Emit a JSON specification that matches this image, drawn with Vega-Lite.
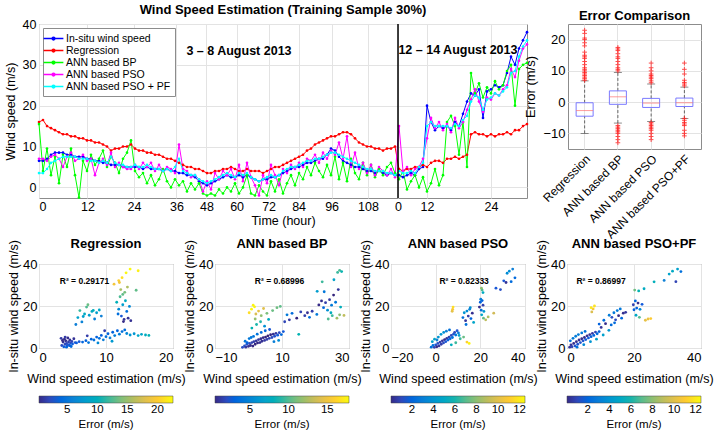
{
"$schema":"https://vega.github.io/schema/vega-lite/v6.json",
"background":"white",
"padding":{"left":3,"top":3,"right":2,"bottom":0},
"config":{
 "font":"Liberation Sans",
 "view":{"stroke":"#8c8c8c","strokeWidth":1},
 "axis":{"grid":true,"gridColor":"#e3e3e3","domain":false,"ticks":false,"labelFontSize":12,"titleFontSize":12.5,"titleFontWeight":"normal","labelColor":"#000","titleColor":"#000","labelPadding":3},
 "title":{"fontSize":13,"fontWeight":"bold","anchor":"middle","offset":1,"color":"#000"},
 "legend":{"labelColor":"#000","titleColor":"#000"}
},
"datasets":{
"ts":[
{"n":0,"a":6.5,"r":16,"b":15.5,"p":7,"f":3.5},
{"n":2,"a":6.5,"r":16.5,"b":4,"p":7,"f":3.5},
{"n":4,"a":7,"r":15,"b":9.5,"p":6.5,"f":4.5},
{"n":6,"a":8,"r":14.5,"b":3,"p":7.5,"f":6},
{"n":8,"a":8.5,"r":14,"b":7.5,"p":8,"f":6.5},
{"n":10,"a":8.5,"r":13.5,"b":1,"p":7,"f":7},
{"n":12,"a":8.5,"r":13,"b":8,"p":5,"f":7.5},
{"n":14,"a":8,"r":13,"b":5,"p":7.5,"f":7.5},
{"n":16,"a":8,"r":12.5,"b":9.5,"p":8.5,"f":7.5},
{"n":18,"a":7.5,"r":12.5,"b":3,"p":6.5,"f":7.5},
{"n":20,"a":7.5,"r":12,"b":-2.5,"p":7,"f":7},
{"n":22,"a":7.5,"r":12,"b":6.5,"p":8,"f":7},
{"n":24,"a":7,"r":11.5,"b":4,"p":6.5,"f":7},
{"n":26,"a":7,"r":11.5,"b":8,"p":7,"f":6.5},
{"n":28,"a":6.5,"r":11,"b":5.5,"p":3,"f":6.5},
{"n":30,"a":6.5,"r":11,"b":7,"p":6,"f":6},
{"n":32,"a":6,"r":10.5,"b":9,"p":7,"f":6.5},
{"n":34,"a":6,"r":10,"b":5,"p":5.5,"f":6},
{"n":36,"a":5.5,"r":9,"b":7.5,"p":8.5,"f":7.5},
{"n":38,"a":5.5,"r":9.5,"b":6,"p":5,"f":6},
{"n":40,"a":5.5,"r":9.5,"b":3.5,"p":6,"f":5.5},
{"n":42,"a":5,"r":10,"b":7,"p":5,"f":5.5},
{"n":44,"a":5,"r":10,"b":8.5,"p":4.5,"f":5},
{"n":46,"a":5,"r":10.5,"b":11.5,"p":4.5,"f":5},
{"n":48,"a":5,"r":9.5,"b":4,"p":5.5,"f":5.5},
{"n":50,"a":5,"r":9,"b":2.5,"p":4.5,"f":5},
{"n":52,"a":4.5,"r":9,"b":3.5,"p":6,"f":5},
{"n":54,"a":5,"r":8.5,"b":1,"p":5,"f":5.5},
{"n":56,"a":4.5,"r":8.5,"b":3,"p":6,"f":5},
{"n":58,"a":4.5,"r":8,"b":0.5,"p":4,"f":4.5},
{"n":60,"a":4.5,"r":8,"b":2,"p":5.5,"f":4.5},
{"n":62,"a":4,"r":7.5,"b":4.5,"p":4,"f":4},
{"n":64,"a":4.5,"r":7,"b":1.5,"p":5,"f":4.5},
{"n":66,"a":4,"r":7,"b":0,"p":4.5,"f":4},
{"n":68,"a":4,"r":6.5,"b":2,"p":3.5,"f":5},
{"n":70,"a":3.5,"r":6,"b":0.5,"p":10.5,"f":7},
{"n":72,"a":3.5,"r":5.5,"b":1.5,"p":4.5,"f":4},
{"n":74,"a":3,"r":5,"b":-1,"p":4,"f":3.5},
{"n":76,"a":3,"r":5,"b":1,"p":2.5,"f":3},
{"n":78,"a":2.5,"r":4.5,"b":-0.5,"p":3,"f":3},
{"n":80,"a":1.5,"r":4.5,"b":1,"p":2,"f":2},
{"n":82,"a":1,"r":4,"b":-1.5,"p":-1,"f":1.5},
{"n":84,"a":0.5,"r":3.5,"b":-2,"p":1.5,"f":1},
{"n":86,"a":1,"r":3.5,"b":-1.5,"p":-0.5,"f":1.5},
{"n":88,"a":1.5,"r":4,"b":-2,"p":3.5,"f":2},
{"n":90,"a":2,"r":4,"b":-0.5,"p":2,"f":2.5},
{"n":92,"a":2.5,"r":4.5,"b":-1.5,"p":4,"f":3},
{"n":94,"a":3,"r":4.5,"b":0,"p":3,"f":3.5},
{"n":96,"a":2.5,"r":5,"b":-1,"p":4.5,"f":3},
{"n":98,"a":2.5,"r":4.5,"b":1,"p":2,"f":2.5},
{"n":100,"a":3,"r":4,"b":-1.5,"p":5.5,"f":3.5},
{"n":102,"a":2.5,"r":4,"b":0,"p":1.5,"f":3},
{"n":104,"a":3,"r":4.5,"b":3,"p":6,"f":3.5},
{"n":106,"a":2.5,"r":4,"b":-1.5,"p":2.5,"f":2.5},
{"n":108,"a":2,"r":4,"b":-2,"p":0.5,"f":2},
{"n":110,"a":1.5,"r":4,"b":0.5,"p":-2,"f":1.5},
{"n":112,"a":2,"r":3.5,"b":-1,"p":3,"f":2},
{"n":114,"a":2,"r":4,"b":-2,"p":1,"f":2.5},
{"n":116,"a":2.5,"r":4.5,"b":1.5,"p":5.5,"f":3},
{"n":118,"a":2.5,"r":5,"b":-1,"p":3,"f":2.5},
{"n":120,"a":3,"r":5,"b":2,"p":0.5,"f":3},
{"n":122,"a":3.5,"r":5.5,"b":-1.5,"p":4.5,"f":4},
{"n":124,"a":4,"r":6,"b":1,"p":3.5,"f":4.5},
{"n":126,"a":4.5,"r":6.5,"b":3,"p":5.5,"f":5},
{"n":128,"a":5,"r":7,"b":0.5,"p":4.5,"f":5},
{"n":130,"a":5,"r":7.5,"b":3.5,"p":6,"f":5.5},
{"n":132,"a":5.5,"r":8,"b":2,"p":5,"f":6},
{"n":134,"a":6,"r":9,"b":5,"p":7,"f":6.5},
{"n":136,"a":6,"r":9.5,"b":3,"p":6.5,"f":6.5},
{"n":138,"a":6.5,"r":10.5,"b":6,"p":8,"f":7},
{"n":140,"a":7,"r":11,"b":4,"p":6,"f":7},
{"n":142,"a":7,"r":11.5,"b":2.5,"p":8.5,"f":7.5},
{"n":144,"a":8,"r":12,"b":5.5,"p":7,"f":8},
{"n":146,"a":9.5,"r":12.5,"b":3,"p":9,"f":8.5},
{"n":148,"a":9,"r":12.5,"b":7.5,"p":8,"f":8.5},
{"n":150,"a":7.5,"r":13,"b":2,"p":11,"f":8},
{"n":152,"a":6.5,"r":13.5,"b":6,"p":7,"f":7.5},
{"n":154,"a":6,"r":13.5,"b":1.5,"p":12.5,"f":7},
{"n":156,"a":5.5,"r":13,"b":7,"p":5,"f":6.5},
{"n":158,"a":5,"r":12,"b":3.5,"p":8.5,"f":6},
{"n":160,"a":5,"r":11,"b":2,"p":4.5,"f":5.5},
{"n":162,"a":4.5,"r":10.5,"b":6,"p":6,"f":5},
{"n":164,"a":4,"r":10,"b":3,"p":3.5,"f":4.5},
{"n":166,"a":4,"r":10,"b":5.5,"p":5.5,"f":4.5},
{"n":168,"a":3.5,"r":9.5,"b":2.5,"p":3,"f":4},
{"n":170,"a":4,"r":9.5,"b":4.5,"p":5,"f":4},
{"n":172,"a":3.5,"r":9,"b":3,"p":4,"f":4},
{"n":174,"a":3,"r":9.5,"b":5,"p":3,"f":3.5},
{"n":176,"a":3.5,"r":9.5,"b":6,"p":4.5,"f":3.5},
{"n":178,"a":3,"r":10,"b":3.5,"p":2.5,"f":3},
{"n":180,"a":3,"r":4.5,"b":2,"p":15,"f":4},
{"n":182,"a":2.5,"r":4,"b":4,"p":4,"f":3.5},
{"n":184,"a":3,"r":4.5,"b":-0.5,"p":5,"f":3.5},
{"n":186,"a":3.5,"r":4.5,"b":1.5,"p":3,"f":4},
{"n":188,"a":3,"r":5,"b":3,"p":4.5,"f":3.5},
{"n":190,"a":4.5,"r":5,"b":0,"p":5,"f":5},
{"n":192,"a":5,"r":5.5,"b":2.5,"p":7,"f":6},
{"n":194,"a":20,"r":5,"b":-1,"p":12,"f":15},
{"n":196,"a":16,"r":6,"b":1,"p":17,"f":16},
{"n":198,"a":14,"r":6.5,"b":4.5,"p":14.5,"f":15},
{"n":200,"a":15,"r":6.5,"b":0.5,"p":16,"f":15},
{"n":202,"a":14.5,"r":6,"b":3,"p":14,"f":15},
{"n":204,"a":15,"r":7,"b":16,"p":15.5,"f":15},
{"n":206,"a":14,"r":7,"b":17.5,"p":13.5,"f":14.5},
{"n":208,"a":16,"r":7.5,"b":15,"p":17,"f":15.5},
{"n":210,"a":15,"r":7,"b":8,"p":14.5,"f":15},
{"n":212,"a":18,"r":7.5,"b":16,"p":16,"f":16.5},
{"n":214,"a":21,"r":8,"b":5,"p":19,"f":17.5},
{"n":216,"a":23,"r":13,"b":28,"p":21.5,"f":21},
{"n":218,"a":22.5,"r":13.5,"b":23,"p":24,"f":22.5},
{"n":220,"a":24,"r":13,"b":25.5,"p":21,"f":22},
{"n":222,"a":17,"r":13,"b":22,"p":18.5,"f":19},
{"n":224,"a":23.5,"r":12.5,"b":24.5,"p":22,"f":21.5},
{"n":226,"a":24,"r":13,"b":23,"p":21.5,"f":22},
{"n":228,"a":25,"r":12.5,"b":26,"p":23,"f":23},
{"n":230,"a":24.5,"r":13,"b":24,"p":22.5,"f":22.5},
{"n":232,"a":25,"r":13,"b":25,"p":24,"f":23.5},
{"n":234,"a":28,"r":13.5,"b":28.5,"p":25,"f":24.5},
{"n":236,"a":32,"r":13,"b":30,"p":29,"f":28},
{"n":238,"a":30,"r":14,"b":20,"p":27,"f":28.5},
{"n":240,"a":34,"r":14,"b":29,"p":31,"f":32},
{"n":242,"a":36,"r":15,"b":30,"p":34,"f":34.5},
{"n":244,"a":38,"r":15.5,"b":30.5,"p":35,"f":36}
],
"box":[
{"m":"Regression","lo":-10,"q1":-4.5,"med":-2.7,"q3":-0.2,"hi":6.8},
{"m":"ANN based BP","lo":-6.7,"q1":-0.7,"med":1.7,"q3":3.6,"hi":9.5},
{"m":"ANN based PSO","lo":-6.2,"q1":-1.7,"med":-0.3,"q3":1.2,"hi":5.8},
{"m":"ANN based PSO+PF","lo":-5.2,"q1":-1.4,"med":-0.2,"q3":1.3,"hi":4.8}
],
"out":[
{"m":"Regression","v":7},{"m":"Regression","v":7.5},{"m":"Regression","v":8},{"m":"Regression","v":8.5},{"m":"Regression","v":9},{"m":"Regression","v":9.5},{"m":"Regression","v":10},{"m":"Regression","v":10.5},{"m":"Regression","v":11},{"m":"Regression","v":12},{"m":"Regression","v":13},{"m":"Regression","v":14},{"m":"Regression","v":14.5},{"m":"Regression","v":15},{"m":"Regression","v":16},{"m":"Regression","v":18},{"m":"Regression","v":19},{"m":"Regression","v":20},{"m":"Regression","v":20.5},{"m":"Regression","v":22},{"m":"Regression","v":23},
{"m":"ANN based BP","v":10},{"m":"ANN based BP","v":10.5},{"m":"ANN based BP","v":11},{"m":"ANN based BP","v":12},{"m":"ANN based BP","v":13},{"m":"ANN based BP","v":14},{"m":"ANN based BP","v":14.5},{"m":"ANN based BP","v":15.5},{"m":"ANN based BP","v":16.5},{"m":"ANN based BP","v":17},{"m":"ANN based BP","v":17.5},{"m":"ANN based BP","v":-7.5},{"m":"ANN based BP","v":-8},{"m":"ANN based BP","v":-8.5},{"m":"ANN based BP","v":-9},{"m":"ANN based BP","v":-9.5},{"m":"ANN based BP","v":-10},{"m":"ANN based BP","v":-11},{"m":"ANN based BP","v":-12},{"m":"ANN based BP","v":-13},
{"m":"ANN based PSO","v":6.2},{"m":"ANN based PSO","v":6.8},{"m":"ANN based PSO","v":7.5},{"m":"ANN based PSO","v":8},{"m":"ANN based PSO","v":8.5},{"m":"ANN based PSO","v":9},{"m":"ANN based PSO","v":10},{"m":"ANN based PSO","v":11},{"m":"ANN based PSO","v":12.5},{"m":"ANN based PSO","v":-6.5},{"m":"ANN based PSO","v":-7},{"m":"ANN based PSO","v":-7.5},{"m":"ANN based PSO","v":-8},{"m":"ANN based PSO","v":-8.5},{"m":"ANN based PSO","v":-9},{"m":"ANN based PSO","v":-10},{"m":"ANN based PSO","v":-11},{"m":"ANN based PSO","v":-12},
{"m":"ANN based PSO+PF","v":5.2},{"m":"ANN based PSO+PF","v":5.8},{"m":"ANN based PSO+PF","v":6.3},{"m":"ANN based PSO+PF","v":7},{"m":"ANN based PSO+PF","v":9},{"m":"ANN based PSO+PF","v":10.5},{"m":"ANN based PSO+PF","v":12.5},{"m":"ANN based PSO+PF","v":-5.2},{"m":"ANN based PSO+PF","v":-5.8},{"m":"ANN based PSO+PF","v":-6.5},{"m":"ANN based PSO+PF","v":-7},{"m":"ANN based PSO+PF","v":-7.5},{"m":"ANN based PSO+PF","v":-9},{"m":"ANN based PSO+PF","v":-10},{"m":"ANN based PSO+PF","v":-10.8}
],
"s1":[
{"x":3.4,"y":1.2,"e":2.2},{"x":3.6,"y":2.8,"e":0.8},{"x":3.7,"y":0.6,"e":3.1},{"x":3.8,"y":4.2,"e":0.4},{"x":3.9,"y":1.8,"e":2.1},{"x":4.0,"y":3.4,"e":0.6},{"x":4.1,"y":2.2,"e":1.9},{"x":4.2,"y":0.9,"e":3.3},{"x":4.3,"y":4.8,"e":0.5},{"x":4.4,"y":2.9,"e":1.5},{"x":4.5,"y":1.4,"e":3.1},{"x":4.6,"y":3.8,"e":0.8},{"x":4.7,"y":2.4,"e":2.3},{"x":4.8,"y":0.7,"e":4.1},{"x":4.9,"y":3.1,"e":1.8},{"x":5.0,"y":1.9,"e":3.1},{"x":5.2,"y":4.4,"e":0.8},{"x":3.5,"y":3.6,"e":0.3},{"x":3.9,"y":5.2,"e":1.3},{"x":4.1,"y":0.4,"e":3.7},{"x":4.6,"y":1.1,"e":3.5},{"x":5.4,"y":2.6,"e":2.8},{"x":3.3,"y":4.6,"e":1.3},{"x":4.3,"y":1.6,"e":2.7},
{"x":5.6,"y":2.4,"e":3.2},{"x":6.0,"y":3.0,"e":3.0},{"x":6.5,"y":2.8,"e":3.7},{"x":7.0,"y":3.5,"e":3.5},{"x":7.4,"y":2.6,"e":4.8},{"x":7.8,"y":4.2,"e":3.6},{"x":8.2,"y":3.8,"e":4.4},{"x":8.6,"y":5.2,"e":3.4},{"x":9.0,"y":4.6,"e":4.4},{"x":9.3,"y":6.0,"e":3.3},{"x":9.6,"y":3.9,"e":5.7},{"x":10.0,"y":5.4,"e":4.6},{"x":10.3,"y":6.8,"e":3.5},{"x":10.6,"y":4.8,"e":5.8},{"x":11.0,"y":7.5,"e":3.5},{"x":11.3,"y":5.9,"e":5.4},{"x":11.7,"y":8.2,"e":3.5},{"x":12.0,"y":6.6,"e":5.4},{"x":12.4,"y":7.8,"e":4.6},{"x":12.8,"y":8.6,"e":4.2},{"x":13.1,"y":6.9,"e":6.2},{"x":8.8,"y":2.4,"e":6.4},{"x":10.9,"y":3.2,"e":7.7},{"x":7.2,"y":5.8,"e":1.4},{"x":9.8,"y":8.2,"e":1.6},
{"x":13.6,"y":6.2,"e":7.4},{"x":14.2,"y":6.8,"e":7.4},{"x":14.8,"y":5.9,"e":8.9},{"x":15.3,"y":6.5,"e":8.8},{"x":15.9,"y":6.2,"e":9.7},{"x":16.4,"y":6.0,"e":10.4},
{"x":5.8,"y":14.5,"e":8.7},{"x":6.1,"y":17.8,"e":11.7},{"x":6.4,"y":12.4,"e":6.0},{"x":6.8,"y":16.2,"e":9.4},{"x":7.1,"y":19.5,"e":12.4},{"x":7.5,"y":15.6,"e":8.1},{"x":7.9,"y":17.4,"e":9.5},{"x":8.3,"y":13.8,"e":5.5},{"x":8.6,"y":16.8,"e":8.2},{"x":9.0,"y":18.1,"e":9.1},{"x":9.3,"y":15.2,"e":5.9},{"x":5.5,"y":11.2,"e":5.7},{"x":7.3,"y":20.6,"e":13.3},{"x":8.1,"y":17.9,"e":9.8},{"x":6.6,"y":15.0,"e":8.4},
{"x":11.6,"y":21.8,"e":10.2},{"x":11.9,"y":18.5,"e":6.6},{"x":12.1,"y":24.4,"e":12.3},{"x":12.3,"y":15.2,"e":2.9},{"x":12.5,"y":20.6,"e":8.1},{"x":12.7,"y":13.6,"e":0.9},{"x":12.9,"y":22.5,"e":9.6},{"x":13.1,"y":17.4,"e":4.3},{"x":13.3,"y":14.2,"e":0.9},{"x":13.5,"y":19.8,"e":6.3},{"x":11.8,"y":16.2,"e":4.4},{"x":12.6,"y":12.6,"e":0.3},{"x":13.7,"y":13.0,"e":0.7},
{"x":12.2,"y":27.8,"e":15.6},{"x":12.8,"y":26.5,"e":13.7},{"x":13.2,"y":29.0,"e":15.8},{"x":12.5,"y":25.5,"e":13.0},{"x":14.5,"y":27.5,"e":13.0},
{"x":11.2,"y":30.4,"e":19.2},{"x":11.9,"y":32.1,"e":20.2},{"x":12.4,"y":33.5,"e":21.1},{"x":13.0,"y":35.8,"e":22.5},{"x":13.6,"y":37.6,"e":22.5},{"x":14.8,"y":36.8,"e":22.0},{"x":12.0,"y":31.2,"e":19.2}
],
"s2":[
{"x":-1.8,"y":0.3,"e":2.1},{"x":-1.2,"y":1.0,"e":2.2},{"x":-0.8,"y":0.4,"e":1.2},{"x":-0.5,"y":1.8,"e":2.3},{"x":0,"y":0.8,"e":0.8},{"x":0.3,"y":2.2,"e":1.9},{"x":0.6,"y":1.2,"e":0.6},{"x":1.0,"y":2.6,"e":1.6},{"x":1.3,"y":0.9,"e":0.4},{"x":1.6,"y":3.0,"e":1.4},{"x":2.0,"y":1.8,"e":0.2},{"x":2.3,"y":3.4,"e":1.1},{"x":2.7,"y":2.4,"e":0.3},{"x":3.0,"y":4.0,"e":1.0},{"x":3.4,"y":2.6,"e":0.8},{"x":3.7,"y":4.4,"e":0.7},{"x":4.0,"y":3.2,"e":0.8},{"x":4.4,"y":4.9,"e":0.5},{"x":4.8,"y":3.6,"e":1.2},{"x":5.1,"y":5.2,"e":0.1},{"x":5.5,"y":4.1,"e":1.4},{"x":5.8,"y":5.8,"e":0.1},{"x":6.2,"y":4.6,"e":1.6},{"x":6.6,"y":6.3,"e":0.3},{"x":7.0,"y":5.0,"e":2.0},{"x":7.4,"y":6.6,"e":0.8},{"x":7.8,"y":5.6,"e":2.2},{"x":8.2,"y":7.0,"e":1.2},{"x":8.7,"y":6.1,"e":2.6},{"x":9.2,"y":7.3,"e":1.9},{"x":9.8,"y":6.4,"e":3.4},{"x":-1.0,"y":3.2,"e":4.2},{"x":0.2,"y":4.5,"e":4.3},{"x":1.5,"y":5.5,"e":4.0},{"x":2.6,"y":6.6,"e":4.0},{"x":3.8,"y":7.4,"e":3.6},{"x":5.0,"y":8.2,"e":3.2},{"x":6.3,"y":8.8,"e":2.5},{"x":10.4,"y":7.8,"e":2.6},{"x":0.8,"y":5.0,"e":4.2},{"x":-0.4,"y":2.6,"e":3.0},{"x":7.6,"y":3.0,"e":4.6},{"x":9.0,"y":3.6,"e":5.4},
{"x":1.0,"y":9.5,"e":8.5},{"x":2.4,"y":11.2,"e":8.8},{"x":3.6,"y":12.5,"e":8.9},{"x":4.8,"y":10.4,"e":5.6},{"x":6.0,"y":13.6,"e":7.6},{"x":7.2,"y":17.8,"e":10.6},{"x":2.0,"y":13.8,"e":11.8},{"x":5.5,"y":16.5,"e":11.0},{"x":8.5,"y":19.2,"e":10.7},{"x":9.5,"y":19.8,"e":10.3},
{"x":0.2,"y":16.8,"e":16.6},{"x":0.9,"y":18.5,"e":17.6},{"x":1.4,"y":20.4,"e":17.6},{"x":2.2,"y":16.2,"e":14.0},{"x":3.0,"y":17.6,"e":14.6},{"x":3.8,"y":15.4,"e":11.6},{"x":4.5,"y":18.8,"e":14.3},{"x":1.8,"y":19.6,"e":17.5},
{"x":11.5,"y":15.8,"e":4.3},{"x":13.0,"y":16.5,"e":3.5},{"x":14.4,"y":14.2,"e":0.2},{"x":15.6,"y":17.2,"e":1.6},{"x":16.8,"y":15.4,"e":1.4},{"x":17.6,"y":16.8,"e":0.8},{"x":18.2,"y":14.6,"e":3.6},{"x":19.0,"y":17.5,"e":1.5},{"x":20.4,"y":16.0,"e":4.4},{"x":12.2,"y":13.4,"e":1.2},{"x":15.0,"y":6.5,"e":8.5},{"x":10.8,"y":12.5,"e":1.7},
{"x":21.0,"y":20.5,"e":0.5},{"x":21.8,"y":22.4,"e":0.6},{"x":22.4,"y":19.2,"e":3.2},{"x":23.0,"y":21.6,"e":1.4},{"x":23.6,"y":18.0,"e":5.6},{"x":24.2,"y":23.0,"e":1.2},{"x":24.8,"y":20.4,"e":4.4},{"x":25.4,"y":25.2,"e":0.2},{"x":26.0,"y":21.8,"e":4.2},{"x":26.8,"y":27.8,"e":1.0},{"x":27.5,"y":19.5,"e":8.0},{"x":22.6,"y":26.8,"e":4.2},{"x":20.5,"y":27.0,"e":6.5},{"x":23.8,"y":13.8,"e":10.0},{"x":25.0,"y":15.4,"e":9.6},{"x":26.4,"y":14.2,"e":12.2},{"x":27.2,"y":15.8,"e":11.4},{"x":24.6,"y":16.8,"e":7.8},{"x":28.5,"y":15.5,"e":13.0},
{"x":26.6,"y":36.0,"e":9.4},{"x":27.2,"y":37.0,"e":9.8},{"x":27.8,"y":36.4,"e":8.6},{"x":25.5,"y":32.5,"e":7.0},{"x":22.0,"y":31.5,"e":9.5}
],
"s3":[
{"x":-2.0,"y":0.4,"e":2.4},{"x":-1.2,"y":1.2,"e":2.4},{"x":-0.6,"y":0.3,"e":0.9},{"x":0,"y":1.5,"e":1.5},{"x":0.5,"y":0.6,"e":0.1},{"x":1.0,"y":2.2,"e":1.2},{"x":1.5,"y":1.0,"e":0.5},{"x":2.0,"y":2.8,"e":0.8},{"x":2.5,"y":1.8,"e":0.7},{"x":3.0,"y":3.4,"e":0.4},{"x":3.5,"y":2.4,"e":1.1},{"x":4.0,"y":4.0,"e":0.1},{"x":4.5,"y":3.0,"e":1.5},{"x":5.0,"y":4.6,"e":0.4},{"x":5.5,"y":3.8,"e":1.7},{"x":6.0,"y":5.2,"e":0.8},{"x":6.5,"y":4.4,"e":2.1},{"x":7.0,"y":6.0,"e":1.0},{"x":7.5,"y":5.0,"e":2.5},{"x":8.0,"y":6.6,"e":1.4},{"x":8.5,"y":7.4,"e":1.1},{"x":9.0,"y":6.2,"e":2.8},{"x":9.6,"y":8.2,"e":1.4},{"x":-1.5,"y":3.0,"e":4.5},{"x":-0.5,"y":4.2,"e":4.7},{"x":1.2,"y":5.2,"e":4.0},{"x":2.4,"y":6.5,"e":4.1},{"x":3.6,"y":7.4,"e":3.8},{"x":4.8,"y":8.0,"e":3.2},{"x":6.2,"y":8.6,"e":2.4},{"x":10.5,"y":6.0,"e":4.5},{"x":11.0,"y":4.4,"e":6.6},{"x":9.0,"y":2.5,"e":6.5},{"x":7.0,"y":1.5,"e":5.5},{"x":12.5,"y":5.2,"e":7.3},{"x":10.2,"y":7.2,"e":3.0},{"x":0.6,"y":3.8,"e":3.2},
{"x":12.2,"y":14.5,"e":2.3},{"x":12.8,"y":16.8,"e":4.0},{"x":13.4,"y":13.0,"e":0.4},{"x":14.0,"y":17.6,"e":3.6},{"x":14.6,"y":15.2,"e":0.6},{"x":15.2,"y":18.4,"e":3.2},{"x":15.8,"y":14.0,"e":1.8},{"x":16.4,"y":16.6,"e":0.2},{"x":17.0,"y":12.2,"e":4.8},{"x":13.6,"y":11.2,"e":2.4},{"x":15.5,"y":19.2,"e":3.7},
{"x":19.6,"y":19.5,"e":0.1},{"x":20.0,"y":21.8,"e":1.8},{"x":20.4,"y":18.0,"e":2.4},{"x":20.8,"y":22.6,"e":1.8},{"x":21.2,"y":20.4,"e":0.8},{"x":21.6,"y":17.4,"e":4.2},{"x":20.2,"y":23.2,"e":3.0},
{"x":20.6,"y":15.8,"e":4.8},{"x":21.4,"y":14.2,"e":7.2},{"x":22.4,"y":13.4,"e":9.0},{"x":23.5,"y":14.8,"e":8.7},{"x":26.0,"y":16.6,"e":9.4},
{"x":20.8,"y":27.6,"e":6.8},{"x":21.2,"y":26.4,"e":5.2},{"x":20.5,"y":28.5,"e":8.0},
{"x":27.0,"y":28.5,"e":1.5},{"x":29.0,"y":27.8,"e":1.2},{"x":30.5,"y":32.0,"e":1.5},{"x":32.0,"y":35.6,"e":3.6},{"x":33.0,"y":36.6,"e":3.6},{"x":34.5,"y":37.6,"e":3.1},{"x":35.5,"y":33.4,"e":2.1},{"x":31.5,"y":31.2,"e":0.3},{"x":33.8,"y":31.6,"e":2.2},
{"x":7.4,"y":17.5,"e":10.1},{"x":7.8,"y":19.5,"e":11.7},{"x":7.6,"y":18.4,"e":10.8},{"x":14.0,"y":2.8,"e":11.2},{"x":15.0,"y":2.2,"e":12.3}
],
"s4":[
{"x":0.8,"y":0.4,"e":0.4},{"x":1.2,"y":1.5,"e":0.3},{"x":1.5,"y":0.6,"e":0.9},{"x":2.0,"y":2.2,"e":0.2},{"x":2.4,"y":1.0,"e":1.4},{"x":2.8,"y":3.0,"e":0.2},{"x":3.2,"y":1.8,"e":1.4},{"x":3.6,"y":3.8,"e":0.2},{"x":4.0,"y":2.6,"e":1.4},{"x":4.4,"y":4.4,"e":0.1},{"x":4.8,"y":3.4,"e":1.4},{"x":5.2,"y":5.0,"e":0.2},{"x":5.6,"y":4.0,"e":1.6},{"x":6.0,"y":5.8,"e":0.2},{"x":6.4,"y":4.8,"e":1.6},{"x":6.8,"y":6.4,"e":0.4},{"x":7.2,"y":5.4,"e":1.8},{"x":7.6,"y":7.0,"e":0.6},{"x":8.0,"y":6.0,"e":2.0},{"x":8.5,"y":7.6,"e":0.9},{"x":9.0,"y":6.8,"e":2.2},{"x":9.6,"y":7.8,"e":1.8},{"x":1.0,"y":3.4,"e":2.4},{"x":1.8,"y":4.6,"e":2.8},{"x":2.6,"y":5.6,"e":3.0},{"x":3.4,"y":6.4,"e":3.0},{"x":4.4,"y":7.2,"e":2.8},{"x":5.4,"y":7.9,"e":2.5},{"x":3.0,"y":0.4,"e":2.6},{"x":5.0,"y":1.6,"e":3.4},{"x":7.0,"y":3.0,"e":4.0},{"x":8.8,"y":4.2,"e":4.6},
{"x":10.2,"y":9.8,"e":0.4},{"x":11.5,"y":11.6,"e":0.1},{"x":10.8,"y":6.2,"e":4.6},{"x":12.5,"y":8.4,"e":4.1},{"x":13.2,"y":11.0,"e":2.2},{"x":11.0,"y":13.2,"e":2.2},{"x":9.6,"y":11.4,"e":1.8},
{"x":13.4,"y":14.6,"e":1.2},{"x":14.0,"y":16.8,"e":2.8},{"x":14.5,"y":13.4,"e":1.1},{"x":15.0,"y":17.8,"e":2.8},{"x":15.4,"y":15.4,"e":0.1},{"x":15.9,"y":18.6,"e":2.7},{"x":16.3,"y":14.2,"e":2.1},{"x":16.8,"y":16.6,"e":0.2},{"x":14.2,"y":12.0,"e":2.2},{"x":12.6,"y":15.6,"e":3.0},{"x":17.5,"y":17.0,"e":0.5},
{"x":7.4,"y":17.2,"e":9.8},{"x":7.8,"y":18.6,"e":10.8},{"x":8.2,"y":20.0,"e":11.8},{"x":7.2,"y":19.2,"e":12.0},
{"x":19.8,"y":20.6,"e":0.8},{"x":20.4,"y":22.4,"e":2.0},{"x":20.8,"y":19.0,"e":1.8},{"x":21.2,"y":21.4,"e":0.2},{"x":21.8,"y":18.4,"e":3.4},{"x":22.4,"y":20.8,"e":1.6},{"x":20.0,"y":18.2,"e":1.8},
{"x":20.6,"y":15.6,"e":5.0},{"x":21.6,"y":14.6,"e":7.0},
{"x":23.4,"y":13.2,"e":10.2},{"x":24.2,"y":13.8,"e":10.4},{"x":25.0,"y":14.0,"e":11.0},
{"x":20.2,"y":27.6,"e":7.4},{"x":21.4,"y":27.2,"e":5.8},{"x":23.0,"y":28.2,"e":5.2},
{"x":26.0,"y":31.5,"e":5.5},{"x":29.0,"y":32.2,"e":3.2},{"x":30.5,"y":35.2,"e":4.7},{"x":31.5,"y":36.6,"e":5.1},{"x":33.0,"y":37.6,"e":4.6},{"x":34.0,"y":36.4,"e":2.4},{"x":32.5,"y":31.6,"e":0.9}
]
},
"spacing":-4,
"vconcat":[
{"bounds":"flush","spacing":41,"hconcat":[
 {"width":488,"height":174,
  "title":"Wind Speed Estimation (Training Sample 30%)",
  "layer":[
   {"data":{"name":"ts"},
    "transform":[{"fold":["a","r","b","p","f"],"as":["series","speed"]}],
    "mark":{"type":"line","strokeWidth":1,"point":{"filled":true,"size":7}},
    "encoding":{
     "x":{"field":"n","type":"quantitative","scale":{"domain":[0,244],"nice":false,"zero":false},
      "axis":{"title":"Time (hour)","values":[0,24.2,47.5,68.7,83.7,98.8,114.8,129.8,146.3,164.5,179.5,194,226],
       "labelExpr":"['0','12','24','36','48','60','72','84','96','108','0','12','24'][indexof([0,24.2,47.5,68.7,83.7,98.8,114.8,129.8,146.3,164.5,179.5,194,226], datum.value)]","labelFontSize":12.5,"titlePadding":2,"labelPadding":2}},
     "y":{"field":"speed","type":"quantitative","scale":{"domain":[-2.6,40],"nice":false,"zero":false},
      "axis":{"title":"Wind speed (m/s)","values":[0,5,10,15,20,25,30,35,40],"labelFontSize":12.5,"titlePadding":5}},
     "color":{"field":"series","type":"nominal",
      "scale":{"domain":["a","r","b","p","f"],"range":["#0000ff","#ff0000","#00ff00","#ff00ff","#00ffff"]},
      "legend":{"title":null,"orient":"none","legendX":4,"legendY":4,"fillColor":"white","strokeColor":"#8c8c8c","padding":4,"labelFontSize":10.5,"rowPadding":0,"symbolType":"M-1.8,0H1.8M-0.25,0A0.25,0.25,0,1,1,0.25,0A0.25,0.25,0,1,1,-0.25,0","symbolSize":121,"symbolStrokeWidth":1.5,"labelOffset":6,
       "labelExpr":"['In-situ wind speed','Regression','ANN based BP','ANN based PSO','ANN based PSO + PF'][indexof(['a','r','b','p','f'], datum.label)]"}}
    }},
   {"data":{"values":[{"n":179.5}]},"mark":{"type":"rule","color":"#000","strokeWidth":1.5},
    "encoding":{"x":{"field":"n","type":"quantitative"}}},
   {"data":{"values":[{"n":73.7,"speed":33.4,"t":"3 – 8 August 2013"},{"n":179.7,"speed":33.6,"t":"12 – 14 August 2013"}]},
    "mark":{"type":"text","align":"left","baseline":"middle","fontWeight":"bold","fontSize":12.5},
    "encoding":{"x":{"field":"n","type":"quantitative"},"y":{"field":"speed","type":"quantitative"},"text":{"field":"t"}}}
  ]},
 {"width":133,"height":125,
  "title":"Error Comparison",
  "encoding":{"x":{"field":"m","type":"nominal","scale":{"domain":["Regression","ANN based BP","ANN based PSO","ANN based PSO+PF"],"paddingInner":0,"paddingOuter":0},
     "axis":{"title":null,"labelAngle":-45,"labelFontSize":12,"labelPadding":4}}},
  "layer":[
   {"data":{"name":"box"},"mark":{"type":"rule","strokeDash":[3,2],"color":"#444","strokeWidth":0.8},
    "encoding":{"y":{"field":"lo","type":"quantitative","scale":{"domain":[-15,25],"nice":false},"axis":{"title":"Error (m/s)","values":[-10,0,10,20],"labelFontSize":13,"titleFontSize":13,"titlePadding":5}},"y2":{"field":"q1"}}},
   {"data":{"name":"box"},"mark":{"type":"rule","strokeDash":[3,2],"color":"#444","strokeWidth":0.8},
    "encoding":{"y":{"field":"q3","type":"quantitative"},"y2":{"field":"hi"}}},
   {"data":{"name":"box"},"mark":{"type":"tick","color":"#333","size":8,"thickness":0.8},
    "encoding":{"y":{"field":"lo","type":"quantitative"}}},
   {"data":{"name":"box"},"mark":{"type":"tick","color":"#333","size":8,"thickness":0.8},
    "encoding":{"y":{"field":"hi","type":"quantitative"}}},
   {"data":{"name":"box"},"mark":{"type":"bar","filled":false,"stroke":"#7a7aff","strokeWidth":1,"size":17},
    "encoding":{"y":{"field":"q1","type":"quantitative"},"y2":{"field":"q3"}}},
   {"data":{"name":"box"},"mark":{"type":"tick","color":"#ff7070","size":17,"thickness":1},
    "encoding":{"y":{"field":"med","type":"quantitative"}}},
   {"data":{"name":"out"},"mark":{"type":"point","shape":"M-1,0H1M0,-1V1","filled":false,"stroke":"#ff2020","strokeWidth":1,"size":22,"opacity":0.8},
    "encoding":{"y":{"field":"v","type":"quantitative"}}}
  ]}
]},
{"bounds":"flush","spacing":42,
 "resolve":{"scale":{"color":"independent"},"legend":{"color":"independent"}},
 "hconcat":[
 {"width":134,"height":84,"title":{"text":"Regression","offset":-11},
  "layer":[
   {"data":{"name":"s1"},"mark":{"type":"circle","size":8,"opacity":1},
    "encoding":{
     "x":{"field":"x","type":"quantitative","scale":{"domain":[0,20],"nice":false},"axis":{"title":"Wind speed estimation (m/s)","values":[0,5,10,15,20],"labelFontSize":13,"titlePadding":8,"labelPadding":3}},
     "y":{"field":"y","type":"quantitative","scale":{"domain":[0,40],"nice":false},"axis":{"title":"In-situ wind speed (m/s)","values":[0,10,20,30,40],"labelFontSize":13,"titlePadding":2,"labelPadding":2}},
     "color":{"field":"e","type":"quantitative","scale":{"domain":[0.3,22.6],"range":["#352a87","#0f5cdd","#1481d6","#06a4ca","#2eb7a4","#87bf77","#d1bb59","#fec832","#f9fb0e"]},
      "legend":{"orient":"none","legendX":0,"legendY":132,"direction":"horizontal","gradientLength":134,"gradientThickness":7,"gradientStrokeColor":"#444","gradientStrokeWidth":0.5,"values":[5,10,15,20],"title":"Error (m/s)","titleOrient":"bottom","titleAnchor":"middle","titleFontSize":11.5,"titleFontWeight":"normal","labelFontSize":11.5,"labelOffset":1,"titlePadding":3}}}},
   {"data":{"values":[{"x":3.1,"y":32,"t":"R² = 0.29171"}]},"mark":{"type":"text","align":"left","baseline":"middle","fontWeight":"bold","fontSize":8.5},
    "encoding":{"x":{"field":"x","type":"quantitative"},"y":{"field":"y","type":"quantitative"},"text":{"field":"t"}}}
  ]},
 {"width":134,"height":84,"title":{"text":"ANN based BP","offset":-11},
  "layer":[
   {"data":{"name":"s2"},"mark":{"type":"circle","size":8,"opacity":1},
    "encoding":{
     "x":{"field":"x","type":"quantitative","scale":{"domain":[-10,30],"nice":false},"axis":{"title":"Wind speed estimation (m/s)","values":[-10,0,10,20,30],"labelFontSize":13,"titlePadding":8,"labelPadding":3}},
     "y":{"field":"y","type":"quantitative","scale":{"domain":[0,40],"nice":false},"axis":{"title":"In-situ wind speed (m/s)","values":[0,10,20,30,40],"labelFontSize":13,"titlePadding":2,"labelPadding":2}},
     "color":{"field":"e","type":"quantitative","scale":{"domain":[0.5,17.8],"range":["#352a87","#0f5cdd","#1481d6","#06a4ca","#2eb7a4","#87bf77","#d1bb59","#fec832","#f9fb0e"]},
      "legend":{"orient":"none","legendX":0,"legendY":132,"direction":"horizontal","gradientLength":134,"gradientThickness":7,"gradientStrokeColor":"#444","gradientStrokeWidth":0.5,"values":[5,10,15],"title":"Error (m/s)","titleOrient":"bottom","titleAnchor":"middle","titleFontSize":11.5,"titleFontWeight":"normal","labelFontSize":11.5,"labelOffset":1,"titlePadding":3}}}},
   {"data":{"values":[{"x":1.9,"y":32,"t":"R² = 0.68996"}]},"mark":{"type":"text","align":"left","baseline":"middle","fontWeight":"bold","fontSize":8.5},
    "encoding":{"x":{"field":"x","type":"quantitative"},"y":{"field":"y","type":"quantitative"},"text":{"field":"t"}}}
  ]},
 {"width":134,"height":84,"title":{"text":"ANN based PSO","offset":-11},
  "layer":[
   {"data":{"name":"s3"},"mark":{"type":"circle","size":8,"opacity":1},
    "encoding":{
     "x":{"field":"x","type":"quantitative","scale":{"domain":[-20,40],"nice":false},"axis":{"title":"Wind speed estimation (m/s)","values":[-20,0,20,40],"labelFontSize":13,"titlePadding":8,"labelPadding":3}},
     "y":{"field":"y","type":"quantitative","scale":{"domain":[0,40],"nice":false},"axis":{"title":"In-situ wind speed (m/s)","values":[0,10,20,30,40],"labelFontSize":13,"titlePadding":2,"labelPadding":2}},
     "color":{"field":"e","type":"quantitative","scale":{"domain":[0.05,12.5],"range":["#352a87","#0f5cdd","#1481d6","#06a4ca","#2eb7a4","#87bf77","#d1bb59","#fec832","#f9fb0e"]},
      "legend":{"orient":"none","legendX":0,"legendY":132,"direction":"horizontal","gradientLength":134,"gradientThickness":7,"gradientStrokeColor":"#444","gradientStrokeWidth":0.5,"values":[2,4,6,8,10,12],"title":"Error (m/s)","titleOrient":"bottom","titleAnchor":"middle","titleFontSize":11.5,"titleFontWeight":"normal","labelFontSize":11.5,"labelOffset":1,"titlePadding":3}}}},
   {"data":{"values":[{"x":1.7,"y":32,"t":"R² = 0.82333"}]},"mark":{"type":"text","align":"left","baseline":"middle","fontWeight":"bold","fontSize":8.5},
    "encoding":{"x":{"field":"x","type":"quantitative"},"y":{"field":"y","type":"quantitative"},"text":{"field":"t"}}}
  ]},
 {"width":134,"height":84,"title":{"text":"ANN based PSO+PF","offset":-11},
  "layer":[
   {"data":{"name":"s4"},"mark":{"type":"circle","size":8,"opacity":1},
    "encoding":{
     "x":{"field":"x","type":"quantitative","scale":{"domain":[0,40],"nice":false},"axis":{"title":"Wind speed estimation (m/s)","values":[0,10,20,30,40],"labelFontSize":13,"titlePadding":8,"labelPadding":3}},
     "y":{"field":"y","type":"quantitative","scale":{"domain":[0,40],"nice":false},"axis":{"title":"In-situ wind speed (m/s)","values":[0,10,20,30,40],"labelFontSize":13,"titlePadding":2,"labelPadding":2}},
     "color":{"field":"e","type":"quantitative","scale":{"domain":[0.07,12.5],"range":["#352a87","#0f5cdd","#1481d6","#06a4ca","#2eb7a4","#87bf77","#d1bb59","#fec832","#f9fb0e"]},
      "legend":{"orient":"none","legendX":0,"legendY":132,"direction":"horizontal","gradientLength":134,"gradientThickness":7,"gradientStrokeColor":"#444","gradientStrokeWidth":0.5,"values":[2,4,6,8,10,12],"title":"Error (m/s)","titleOrient":"bottom","titleAnchor":"middle","titleFontSize":11.5,"titleFontWeight":"normal","labelFontSize":11.5,"labelOffset":1,"titlePadding":3}}}},
   {"data":{"values":[{"x":2.8,"y":32,"t":"R² = 0.86997"}]},"mark":{"type":"text","align":"left","baseline":"middle","fontWeight":"bold","fontSize":8.5},
    "encoding":{"x":{"field":"x","type":"quantitative"},"y":{"field":"y","type":"quantitative"},"text":{"field":"t"}}}
  ]}
]}
]
}
